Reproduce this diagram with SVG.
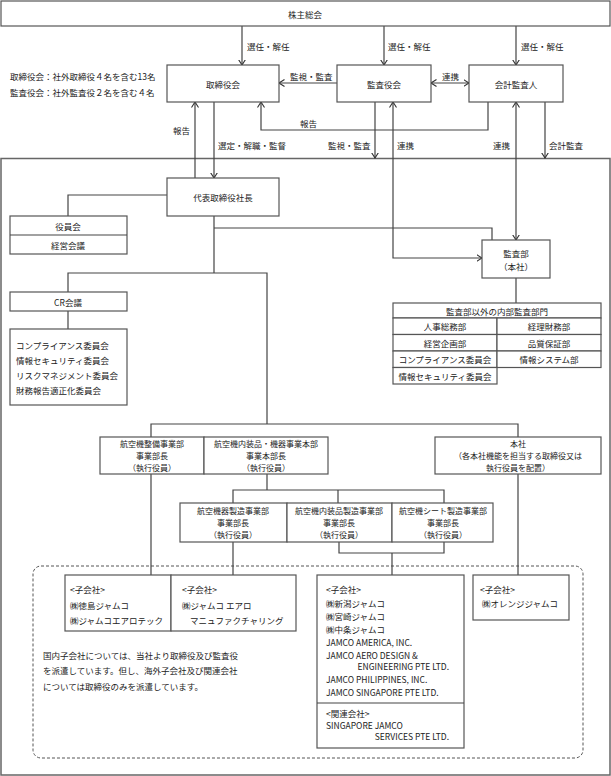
<svg xmlns="http://www.w3.org/2000/svg" width="611" height="776" viewBox="0 0 611 776">
<style>
text{font-family:"Noto Sans CJK JP","Noto Sans CJK SC",sans-serif;font-size:8.5px;fill:#222;dominant-baseline:central}
.c{text-anchor:middle}
.s{font-size:8px}
.b{fill:#fff;stroke:#555;stroke-width:1.2}
.l{fill:none;stroke:#444;stroke-width:1.2}
.a{fill:none;stroke:#444;stroke-width:1.2;marker-end:url(#ah)}
.d{fill:none;stroke:#444;stroke-width:1.2;marker-start:url(#ah);marker-end:url(#ah)}
</style>
<defs>
<marker id="ah" markerUnits="userSpaceOnUse" viewBox="0 0 6 8" refX="5.5" refY="4" markerWidth="6" markerHeight="8" orient="auto-start-reverse">
<path d="M0,0.5 L5.5,4 L0,7.5" fill="none" stroke="#333" stroke-width="1.1"/>
</marker>
</defs>
<rect x="0" y="0" width="611" height="776" fill="#fff"/>
<rect x="1" y="158.5" width="609" height="616.5" fill="none" stroke="#666" stroke-width="1.5"/>
<rect x="33" y="566" width="550" height="192" rx="8" fill="none" stroke="#555" stroke-width="1" stroke-dasharray="3,2"/>

<g id="connectors">
<path class="a" d="M242,26 V65"/>
<path class="a" d="M384,26 V65"/>
<path class="a" d="M516,26 V65"/>
<path class="a" d="M337,83 H279"/>
<path class="d" d="M431,83 H469"/>
<path class="a" d="M488,102 V130 H261 V102"/>
<path class="a" d="M195,178 V102"/>
<path class="a" d="M214,102 V178"/>
<path class="a" d="M375,102 V158"/>
<path class="d" d="M482,258 H393 V102"/>
<path class="d" d="M516,102 V240"/>
<path class="a" d="M545,102 V158"/>
<path class="l" d="M167,195 H68 V216"/>
<path class="l" d="M214,216 V273"/>
<path class="l" d="M68,292 V273 H267 V424"/>
<path class="l" d="M214,228 H492 V240"/>
<path class="l" d="M68,311 V329"/>
<path class="l" d="M516,278 V303"/>
<path class="l" d="M151,437 V424 H518 V437"/>
<path class="l" d="M151,474 V575"/>
<path class="l" d="M518,474 V575"/>
<path class="l" d="M267,474 V490"/>
<path class="l" d="M233,503 V490 H444 V503"/>
<path class="l" d="M338,490 V503"/>
<path class="l" d="M233,542 V575"/>
<path class="l" d="M339,542 V553 H444 V542"/>
<path class="l" d="M392,553 V575"/>
</g>

<g id="labels">
<text x="247" y="46">選任・解任</text>
<text x="388" y="46">選任・解任</text>
<text x="521" y="46">選任・解任</text>
<text x="290" y="76">監視・監査</text>
<text x="442" y="76">連携</text>
<text x="300" y="123">報告</text>
<text x="173" y="130">報告</text>
<text x="218" y="145">選定・解職・監督</text>
<text x="328" y="145">監視・監査</text>
<text x="397" y="145">連携</text>
<text x="493" y="145">連携</text>
<text x="549" y="145">会計監査</text>
<text x="10" y="76">取締役会：社外取締役４名を含む13名</text>
<text x="10" y="92">監査役会：社外監査役２名を含む４名</text>
</g>

<g id="n-shareholders"><rect class="b" x="1" y="1" width="609" height="25"/><text class="c" x="305" y="14">株主総会</text></g>
<g id="n-board"><rect class="b" x="167" y="65" width="112" height="37"/><text class="c" x="223" y="84">取締役会</text></g>
<g id="n-auditors"><rect class="b" x="337" y="65" width="94" height="37"/><text class="c" x="384" y="84">監査役会</text></g>
<g id="n-accounting"><rect class="b" x="469" y="65" width="94" height="37"/><text class="c" x="516" y="84">会計監査人</text></g>
<g id="n-president"><rect class="b" x="167" y="178" width="112" height="38"/><text class="c" x="223" y="197">代表取締役社長</text></g>
<g id="n-officers"><rect class="b" x="10" y="216" width="117" height="38"/><line class="l" x1="10" y1="235" x2="127" y2="235"/><text class="c" x="68" y="226">役員会</text><text class="c" x="68" y="245">経営会議</text></g>
<g id="n-cr"><rect class="b" x="10" y="292" width="117" height="19"/><text class="c" x="68" y="302">CR会議</text></g>
<g id="n-committees"><rect class="b" x="10" y="329" width="117" height="76"/>
<text x="16" y="345">コンプライアンス委員会</text><text x="16" y="360">情報セキュリティ委員会</text><text x="16" y="375">リスクマネジメント委員会</text><text x="16" y="390">財務報告適正化委員会</text></g>
<g id="n-auditdept"><rect class="b" x="482" y="240" width="68" height="38"/><text class="c" x="516" y="253">監査部</text><text class="c" x="516" y="265.5">（本社）</text></g>
<g id="n-internal">
<rect class="b" x="393" y="303" width="208" height="15"/>
<rect class="b" x="393" y="318" width="104" height="16.5"/><rect class="b" x="497" y="318" width="104" height="16.5"/>
<rect class="b" x="393" y="334.5" width="104" height="16.5"/><rect class="b" x="497" y="334.5" width="104" height="16.5"/>
<rect class="b" x="393" y="351" width="104" height="16.5"/><rect class="b" x="497" y="351" width="104" height="16.5"/>
<rect class="b" x="393" y="367.5" width="104" height="16.5"/>
<text class="c" x="497" y="311">監査部以外の内部監査部門</text>
<text class="c" x="445" y="326">人事総務部</text><text class="c" x="549" y="326">経理財務部</text>
<text class="c" x="445" y="343">経営企画部</text><text class="c" x="549" y="343">品質保証部</text>
<text class="c" x="445" y="359">コンプライアンス委員会</text><text class="c" x="549" y="359">情報システム部</text>
<text class="c" x="445" y="376">情報セキュリティ委員会</text>
</g>
<g id="n-maint"><rect class="b" x="100" y="437" width="104" height="37"/><text class="c s" x="152" y="443.9">航空機整備事業部</text><text class="c s" x="152" y="455.5">事業部長</text><text class="c s" x="152" y="467.1">（執行役員）</text></g>
<g id="n-interiors"><rect class="b" x="204" y="437" width="124" height="37"/><text class="c s" x="266" y="443.9">航空機内装品・機器事業本部</text><text class="c s" x="266" y="455.5">事業本部長</text><text class="c s" x="266" y="467.1">（執行役員）</text></g>
<g id="n-hq"><rect class="b" x="435" y="437" width="166" height="37"/><text class="c s" x="518" y="443.9">本社</text><text class="c s" x="518" y="455.5">（各本社機能を担当する取締役又は</text><text class="c s" x="518" y="467.1">執行役員を配置）</text></g>
<g id="n-equip"><rect class="b" x="180" y="503" width="107" height="39"/><text class="c s" x="233" y="510.9">航空機器製造事業部</text><text class="c s" x="233" y="522.5">事業部長</text><text class="c s" x="233" y="534.1">（執行役員）</text></g>
<g id="n-intmfg"><rect class="b" x="287" y="503" width="105" height="39"/><text class="c s" x="339" y="510.9">航空機内装品製造事業部</text><text class="c s" x="339" y="522.5">事業部長</text><text class="c s" x="339" y="534.1">（執行役員）</text></g>
<g id="n-seat"><rect class="b" x="392" y="503" width="101" height="39"/><text class="c s" x="443" y="510.9">航空機シート製造事業部</text><text class="c s" x="443" y="522.5">事業部長</text><text class="c s" x="443" y="534.1">（執行役員）</text></g>
<g id="n-subA"><rect class="b" x="65" y="575" width="106" height="56"/><text x="70" y="589">&lt;子会社&gt;</text><text x="70" y="605">㈱徳島ジャムコ</text><text x="70" y="620">㈱ジャムコエアロテック</text></g>
<g id="n-subB"><rect class="b" x="171" y="575" width="125" height="56"/><text x="182" y="589">&lt;子会社&gt;</text><text x="182" y="605">㈱ジャムコ エアロ</text><text x="190" y="620">マニュファクチャリング</text></g>
<g id="n-subC"><rect class="b" x="317" y="575" width="147" height="173"/><line class="l" x1="317" y1="703" x2="464" y2="703"/>
<text x="326" y="589">&lt;子会社&gt;</text><text x="326" y="603">㈱新潟ジャムコ</text><text x="326" y="615.5">㈱宮崎ジャムコ</text><text x="326" y="628.5">㈱中条ジャムコ</text>
<text x="326" y="642">JAMCO AMERICA, INC.</text><text x="326" y="655">JAMCO AERO DESIGN &amp;</text><text x="449" y="666" text-anchor="end">ENGINEERING PTE LTD.</text>
<text x="326" y="679">JAMCO PHILIPPINES, INC.</text><text x="326" y="692">JAMCO SINGAPORE PTE LTD.</text>
<text x="326" y="713">&lt;関連会社&gt;</text><text x="326" y="724.5">SINGAPORE JAMCO</text><text x="449" y="736" text-anchor="end">SERVICES PTE LTD.</text></g>
<g id="n-subD"><rect class="b" x="473" y="575" width="96" height="45"/><text x="480" y="589">&lt;子会社&gt;</text><text x="482" y="603">㈱オレンジジャムコ</text></g>
<g id="note"><text x="43" y="655">国内子会社については、当社より取締役及び監査役</text><text x="43" y="670">を派遣しています。但し、海外子会社及び関連会社</text><text x="43" y="686">については取締役のみを派遣しています。</text></g>
</svg>
